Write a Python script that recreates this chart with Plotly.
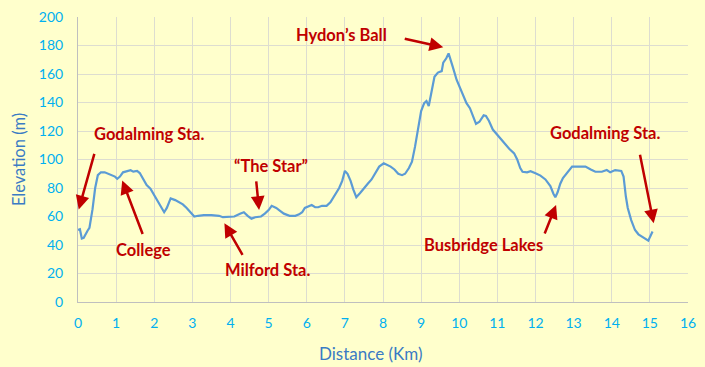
import plotly.graph_objects as go

# Distance along route (km) and elevation (m)
distance_km = [
    0.00, 0.05, 0.10, 0.15, 0.25, 0.30, 0.38, 0.45, 0.52, 0.60, 0.70, 0.80, 0.90, 0.97,
    1.03, 1.10, 1.18, 1.28, 1.38, 1.45, 1.55, 1.62, 1.72, 1.80, 1.90, 2.00, 2.10, 2.20,
    2.26, 2.33, 2.43, 2.55, 2.65, 2.75, 2.85, 2.95, 3.05, 3.15, 3.30, 3.50, 3.70, 3.80,
    3.95, 4.10, 4.25, 4.35, 4.45, 4.55, 4.65, 4.80, 4.90, 5.00, 5.08, 5.20, 5.30, 5.40,
    5.55, 5.70, 5.80, 5.88, 5.95, 6.05, 6.13, 6.22, 6.30, 6.40, 6.52, 6.62, 6.75, 6.85,
    6.93, 7.00, 7.07, 7.15, 7.22, 7.30, 7.40, 7.50, 7.60, 7.70, 7.80, 7.90, 8.02, 8.10,
    8.20, 8.30, 8.40, 8.50, 8.58, 8.68, 8.76, 8.84, 8.92, 9.00, 9.08, 9.14, 9.20, 9.27,
    9.35, 9.44, 9.54, 9.58, 9.66, 9.72, 9.78, 9.83, 9.93, 10.07, 10.19, 10.28, 10.36,
    10.44, 10.53, 10.64, 10.70, 10.78, 10.88, 11.00, 11.10, 11.18, 11.31, 11.44, 11.52,
    11.60, 11.66, 11.78, 11.87, 12.00, 12.13, 12.26, 12.39, 12.47, 12.52, 12.58, 12.65,
    12.72, 12.83, 12.96, 13.10, 13.31, 13.45, 13.57, 13.74, 13.87, 13.96, 14.09, 14.25,
    14.31, 14.37, 14.42, 14.51, 14.61, 14.70, 14.79, 14.90, 14.96, 15.00, 15.07,
]
elevation_m = [
    50.5, 51, 44.5, 45, 50, 52, 65, 80, 89, 91, 91, 90, 89, 88,
    86.5, 88, 91, 92, 92.5, 91.5, 92, 90.5, 86, 82, 79.5, 75, 70.5, 66,
    63, 66, 72.7, 71.5, 70, 68.5, 66, 63, 60, 60.5, 61, 61, 60.5, 59.5,
    59.5, 60, 62, 63, 60.5, 58.5, 59.5, 60, 62, 64.5, 67.5, 66, 64, 62,
    60.5, 60.5, 61.5, 63, 66, 67, 68, 66.5, 66.5, 67.5, 67.5, 70, 76, 80,
    85, 92, 90, 85, 79, 73.5, 76.5, 80, 83, 86, 91, 95, 97.3, 96.5,
    95, 93, 90, 89, 90, 94, 98.5, 109, 123, 134, 139.5, 141, 137.5, 146.5,
    158, 161, 162, 168, 171, 174.5, 170, 165, 156, 147.6, 139.5, 136, 130,
    125, 126.5, 131, 130.5, 127, 121, 117, 114, 111, 107.5, 104.3, 100,
    94, 91.4, 91, 91.8, 90.3, 88.7, 86, 81.4, 76, 73.5, 77, 83,
    87, 90.7, 95, 95, 95, 93, 91.4, 91.4, 92.6, 91, 92.6, 92,
    88, 74, 66, 57.5, 50.5, 47.5, 45.8, 43.5, 43, 45.5, 49.5,
]

x_ticks = list(range(0, 17))
y_ticks = list(range(0, 201, 20))
x_title = "Distance (Km)"
y_title = "Elevation (m)"

# Labels: text, text position (km, m)
label_texts = ["Godalming Sta.", "College", "Milford Sta.", "\u201cThe Star\u201d",
               "Hydon\u2019s Ball", "Busbridge Lakes", "Godalming Sta."]
label_x = [1.85, 1.72, 4.96, 5.07, 6.90, 10.64, 13.83]
label_y = [118.0, 36.5, 22.5, 95.4, 187.4, 40.0, 118.6]

# Arrows: head (km, m) and tail offset in pixels
arrow_x = [0.02, 1.16, 3.84, 4.75, 9.58, 12.54, 15.10]
arrow_y = [65.0, 85.3, 55.2, 64.6, 178.7, 68.1, 55.2]
arrow_ax = [16, 21, 19, -3, -40, -12, -14]
arrow_ay = [-57, 55, 33, -30, -9, 30, -70]

RED = "#C00000"
FONT = "Lato"
BG = "#FFFFCC"
TITLE_COLOR = "#3A7BC4"

fig = go.Figure()
fig.add_trace(go.Scatter(
    x=distance_km, y=elevation_m, mode="lines",
    line=dict(color="#5B9BD5", width=2.2),
    hoverinfo="skip", showlegend=False,
))

annotations = []
for t, x, y in zip(label_texts, label_x, label_y):
    annotations.append(dict(
        x=x, y=y, xref="x", yref="y", text=f"<b>{t}</b>", showarrow=False,
        font=dict(family=FONT, size=16.5, color=RED),
    ))
for x, y, ax, ay in zip(arrow_x, arrow_y, arrow_ax, arrow_ay):
    annotations.append(dict(
        x=x, y=y, xref="x", yref="y", text="", showarrow=True,
        ax=ax, ay=ay, arrowhead=2, arrowsize=1.1, arrowwidth=2.5, arrowcolor=RED,
    ))
# X-axis title (slightly left of centre, as in the original)
annotations.append(dict(
    x=0.48, y=-0.179, xref="paper", yref="paper", text=x_title, showarrow=False,
    xanchor="center", yanchor="middle",
    font=dict(family=FONT, size=17, color=TITLE_COLOR),
))

fig.update_layout(
    width=705, height=367,
    margin=dict(l=78, r=17, t=17, b=65, autoexpand=False),
    paper_bgcolor=BG, plot_bgcolor=BG,
    font=dict(family=FONT),
    annotations=annotations,
    xaxis=dict(
        range=[0, 16], tickvals=x_ticks, ticktext=[str(v) for v in x_ticks],
        showgrid=True, gridcolor="#DDDDD0", gridwidth=1,
        showline=True, linecolor="#BFBFBF", linewidth=1,
        zeroline=False, ticks="", ticklabelstandoff=8, automargin=False,
        tickfont=dict(family=FONT, size=14, color="#00B0F0"),
    ),
    yaxis=dict(
        range=[0, 200], tickvals=y_ticks, ticktext=[str(v) for v in y_ticks],
        showgrid=True, gridcolor="#DDDDD0", gridwidth=1,
        showline=True, linecolor="#BFBFBF", linewidth=1,
        zeroline=False, ticks="", ticklabelstandoff=11, automargin=False,
        tickfont=dict(family=FONT, size=14, color="#00B0F0"),
        title=dict(text=y_title, font=dict(family=FONT, size=16.5, color=TITLE_COLOR),
                   standoff=9),
    ),
)

fig.write_html(
    "out.html",
    config={"displayModeBar": False, "staticPlot": True},
    post_script="document.body.style.margin='0';document.body.style.background='%s';" % BG,
)
